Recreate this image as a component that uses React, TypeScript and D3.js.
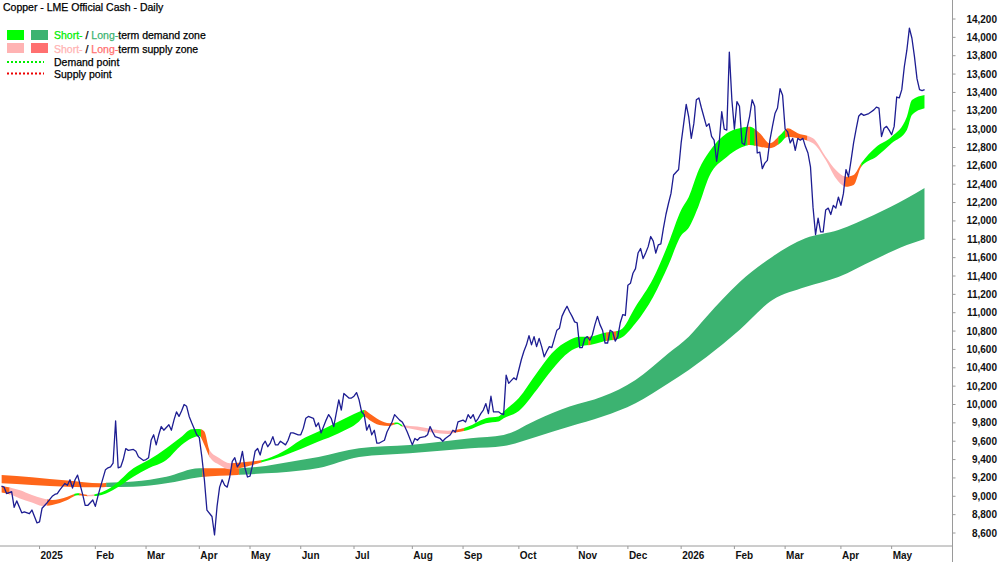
import React from 'react';
import * as d3 from 'd3';

// day = trading-day index counted from the first bar (early Dec 2024)
const price: [number, number][] = [
  [0, 9110], [1, 9100], [2, 9030], [4, 9050], [5, 8880], [6, 8950], [8, 8820], [9, 8830], [11, 8810], [12, 8850],
  [13, 8780], [14, 8710], [15, 8720], [16, 8870], [17, 8900], [18, 8930], [20, 9000], [21, 9020], [22, 9030], [23, 9070],
  [25, 9140], [26, 9120], [27, 9180], [28, 9090], [29, 9180], [30, 9230], [32, 9020], [33, 8900], [34, 8900], [36, 8960],
  [37, 8890], [38, 9000], [39, 9100], [41, 9290], [42, 9310], [43, 9320], [44, 9360], [45, 9820], [46, 9310], [47, 9320],
  [48, 9400], [49, 9520], [50, 9500], [52, 9510], [53, 9490], [54, 9430], [56, 9390], [57, 9400], [58, 9420], [59, 9610],
  [60, 9670], [61, 9560], [62, 9670], [63, 9760], [64, 9720], [66, 9780], [67, 9720], [68, 9830], [69, 9920], [70, 9870],
  [71, 9930], [72, 10000], [73, 9980], [74, 9870], [75, 9800], [77, 9670], [78, 9640], [79, 9430], [80, 9180], [81, 8850],
  [83, 8780], [84, 8580], [85, 8890], [86, 9100], [87, 9180], [88, 9120], [89, 9100], [90, 9210], [91, 9380], [92, 9420],
  [93, 9320], [94, 9360], [95, 9490], [96, 9310], [97, 9210], [98, 9220], [99, 9340], [100, 9490], [101, 9520], [102, 9450],
  [103, 9560], [104, 9600], [105, 9540], [106, 9580], [107, 9650], [108, 9560], [109, 9560], [110, 9600], [112, 9560], [113, 9610],
  [114, 9690], [115, 9690], [117, 9670], [118, 9670], [119, 9740], [120, 9850], [121, 9870], [123, 9850], [124, 9760], [125, 9800],
  [126, 9690], [128, 9830], [129, 9890], [130, 9850], [131, 9760], [133, 10050], [134, 9940], [135, 10120], [137, 10070], [138, 10070],
  [139, 10090], [140, 10130], [141, 10050], [142, 9920], [143, 9890], [144, 9720], [145, 9780], [146, 9670], [147, 9720], [148, 9580],
  [149, 9580], [151, 9610], [152, 9700], [154, 9810], [155, 9890], [157, 9830], [158, 9810], [159, 9760], [160, 9700], [162, 9560],
  [163, 9630], [164, 9610], [165, 9640], [167, 9650], [168, 9670], [169, 9760], [170, 9700], [171, 9650], [173, 9630], [174, 9600],
  [175, 9630], [177, 9670], [178, 9720], [179, 9700], [180, 9810], [182, 9830], [183, 9810], [184, 9890], [185, 9850], [186, 9890],
  [187, 9810], [188, 9850], [189, 9900], [190, 9940], [191, 10010], [192, 9900], [193, 10090], [194, 9920], [196, 9920], [197, 9900],
  [198, 9890], [199, 10320], [200, 10230], [202, 10290], [203, 10270], [205, 10490], [206, 10580], [207, 10650], [208, 10750], [209, 10650],
  [210, 10740], [211, 10630], [212, 10720], [213, 10630], [214, 10520], [215, 10580], [216, 10630], [217, 10620], [219, 10810], [220, 10830],
  [221, 10960], [222, 11020], [223, 11070], [224, 11010], [225, 10960], [226, 10900], [227, 10890], [228, 10620], [229, 10620], [230, 10720],
  [231, 10740], [232, 10700], [233, 10760], [234, 10870], [235, 10960], [236, 10870], [237, 10810], [238, 10670], [239, 10670], [240, 10810],
  [241, 10790], [242, 10690], [243, 10740], [244, 10890], [245, 10980], [246, 10970], [247, 11300], [248, 11320], [249, 11430], [250, 11480],
  [251, 11650], [252, 11700], [253, 11590], [254, 11650], [255, 11720], [256, 11830], [257, 11780], [258, 11650], [259, 11740], [260, 11750],
  [261, 11920], [262, 12070], [263, 12190], [264, 12300], [265, 12500], [266, 12530], [267, 12560], [268, 12850], [269, 13060], [270, 13270],
  [271, 13130], [272, 12900], [273, 13060], [274, 13320], [275, 13340], [276, 13230], [278, 13030], [279, 13060], [280, 12920], [281, 12880],
  [282, 12650], [283, 12850], [284, 13190], [285, 13000], [286, 12990], [287, 13840], [288, 13320], [289, 13000], [290, 13300], [291, 13250],
  [292, 12850], [293, 12830], [294, 13010], [295, 13140], [296, 13320], [297, 13250], [298, 12740], [299, 12750], [300, 12570], [301, 12630],
  [302, 12660], [303, 12880], [304, 13030], [305, 13170], [306, 13230], [307, 13440], [308, 13370], [309, 13000], [310, 12970], [311, 12850],
  [312, 12900], [313, 12770], [314, 12900], [315, 12880], [316, 12900], [317, 12810], [318, 12740], [319, 12590], [320, 12150], [321, 11850],
  [322, 12030], [323, 11880], [324, 11880], [325, 12120], [326, 12140], [327, 12070], [328, 12170], [329, 12140], [330, 12260], [331, 12170],
  [332, 12300], [333, 12560], [334, 12480], [335, 12660], [336, 12850], [337, 13000], [338, 13140], [339, 13170], [340, 13150], [342, 13170],
  [343, 13190], [344, 13210], [345, 13240], [346, 13230], [347, 12920], [348, 13010], [349, 13030], [350, 12990], [351, 12940], [352, 13030],
  [353, 13350], [354, 13340], [355, 13430], [356, 13680], [357, 13860], [358, 14100], [359, 13990], [360, 13790], [361, 13550], [362, 13430],
  [363, 13420], [364, 13430],
];

// short-term zone: [day, upper, lower]
const shortZone: [number, number, number][] = [
  [0, 9113, 9040], [4, 9091, 9015], [7, 9069, 8979], [12, 9015, 8931], [16, 8979, 8895], [20, 8960, 8906], [26, 8996, 8960],
  [30, 9033, 9011], [34, 9015, 9000], [38, 9030, 9005], [44, 9113, 9069], [52, 9306, 9214], [58, 9396, 9306], [65, 9524, 9396],
  [71, 9650, 9560], [75, 9731, 9632], [78, 9734, 9658], [80, 9705, 9560], [82, 9505, 9432], [86, 9415, 9342], [90, 9360, 9295],
  [96, 9374, 9320], [103, 9396, 9374], [111, 9487, 9440], [118, 9614, 9516], [125, 9705, 9596], [133, 9814, 9687], [141, 9922, 9814],
  [143, 9941, 9868], [145, 9905, 9832], [149, 9832, 9777], [153, 9796, 9767], [156, 9803, 9788], [158, 9777, 9759], [164, 9759, 9723],
  [170, 9730, 9694], [176, 9715, 9679], [179, 9723, 9694], [184, 9759, 9723], [191, 9850, 9796], [196, 9868, 9814], [198, 9923, 9850],
  [204, 10072, 9930], [211, 10341, 10159], [217, 10559, 10377], [224, 10703, 10576], [228, 10739, 10630], [232, 10739, 10649],
  [237, 10776, 10685], [244, 10812, 10722], [250, 11066, 10885], [257, 11375, 11175], [263, 11757, 11520], [268, 12119, 11840],
  [271, 12261, 11925], [275, 12560, 12170], [279, 12750, 12480], [286, 12955, 12697], [291, 13009, 12792], [295, 13027, 12827],
  [299, 12955, 12809], [303, 12846, 12792], [307, 12936, 12846], [310, 13009, 12918], [314, 12955, 12900], [320, 12900, 12846],
  [325, 12700, 12664], [329, 12555, 12465], [333, 12482, 12373], [336, 12501, 12392], [339, 12628, 12591], [345, 12809, 12700],
  [351, 12918, 12846], [357, 13136, 12991], [359, 13318, 13154], [364, 13372, 13227],
];

// long-term zone: [day, upper, lower]
const longZone: [number, number, number][] = [
  [0, 9233, 9142], [12, 9208, 9124], [26, 9171, 9105], [39, 9142, 9099], [41, 9146, 9102], [52, 9160, 9105], [65, 9214, 9142],
  [78, 9306, 9208], [93, 9306, 9233], [118, 9396, 9280], [125, 9429, 9309], [141, 9524, 9429], [161, 9560, 9469], [185, 9633, 9524],
  [198, 9669, 9549], [211, 9832, 9650], [224, 9977, 9759], [237, 10086, 9868], [250, 10268, 10014], [263, 10559, 10232],
  [271, 10739, 10377], [278, 10957, 10518], [291, 11332, 10812], [304, 11611, 11139], [317, 11811, 11281], [330, 11902, 11390],
  [344, 12065, 11575], [357, 12247, 11738], [364, 12359, 11804],
];

// zone state by day range: G short demand, D long demand, P short supply, O strong supply
const shortStates: [number, number, string][] = [
  [0, 3.2, 'O'], [3.2, 18.1, 'P'], [18.1, 28.8, 'O'], [28.8, 30.7, 'G'], [30.7, 33.9, 'O'], [33.9, 36.7, 'P'],
  [36.7, 78.7, 'G'], [78.7, 82, 'O'], [82, 90.7, 'P'], [90.7, 102.5, 'O'], [102.5, 143.1, 'G'], [143.1, 155, 'O'],
  [155, 158.1, 'G'], [158.1, 178.6, 'P'], [178.6, 182.5, 'O'], [182.5, 231.5, 'G'], [231.5, 232.3, 'O'], [232.3, 238.5, 'G'],
  [238.5, 239.5, 'O'], [239.5, 241, 'G'], [241, 242.5, 'O'], [242.5, 294.2, 'G'], [294.2, 295.2, 'O'], [295.2, 297, 'G'],
  [297, 306.4, 'O'], [306.4, 309.1, 'G'], [309.1, 317.8, 'O'], [317.8, 332.4, 'P'], [332.4, 339.1, 'O'], [339.1, 364, 'G'],
];
const longStates: [number, number, string][] = [
  [0, 41.4, 'O'], [41.4, 79.3, 'D'], [79.3, 93.8, 'O'], [93.8, 364, 'D'],
];

const monthLabels = ['2025', 'Feb', 'Mar', 'Apr', 'May', 'Jun', 'Jul', 'Aug', 'Sep', 'Oct', 'Nov', 'Dec', '2026', 'Feb', 'Mar', 'Apr', 'May'];
const monthStartDays = [15, 37, 57, 78, 98, 118, 139, 162, 182, 204, 227, 247, 268, 289, 309, 331, 351];
const yTicks = d3.range(8600, 14201, 200);

const colors: Record<string, string> = {
  G: '#00ff00',
  D: '#3cb371',
  P: '#ffb6b6',
  O: '#ff661a',
};

const W = 1000;
const H = 562;
const axisY = 546;
const font = '"Liberation Sans", Arial, sans-serif';

// slightly heavier text, like the original's rendering
const Txt: React.FC<{ x: number; y: number; children: React.ReactNode }> = ({ x, y, children }) => (
  <text x={x} y={y} fontSize={10.5} fill="#000" stroke="#000" strokeWidth={0.25}>{children}</text>
);
const Part: React.FC<{ c: string; children: React.ReactNode }> = ({ c, children }) => (
  <tspan fill={c} stroke={c}>{children}</tspan>
);

const App: React.FC = () => {
  const x = d3.scaleLinear().domain([0, 375]).range([1.5, 952.5]);
  const y = d3.scaleLinear().domain([8600, 14200]).range([533, 19]);
  const axisX = x(375);

  const band = d3.area<[number, number, number]>()
    .x(d => x(d[0]))
    .y0(d => y(d[2]))
    .y1(d => y(d[1]))
    .curve(d3.curveMonotoneX);

  const line = d3.line<[number, number]>()
    .x(d => x(d[0]))
    .y(d => y(d[1]));

  const fmt = d3.format(',');

  const zone = (id: string, states: [number, number, string][], data: [number, number, number][]) => (
    <g>
      <defs>
        {states.map((s, i) => (
          <clipPath key={i} id={`${id}-${i}`}>
            <rect x={x(s[0]) - 0.2} y={0} width={x(s[1]) - x(s[0]) + 0.4} height={H} />
          </clipPath>
        ))}
      </defs>
      {states.map((s, i) => (
        <path key={i} d={band(data) || ''} fill={colors[s[2]]} clipPath={`url(#${id}-${i})`} />
      ))}
    </g>
  );

  return (
    <svg width={W} height={H} style={{ position: 'absolute', left: 0, top: 0, background: '#fff', fontFamily: font }}>
      {zone('lt', longStates, longZone)}
      {zone('st', shortStates, shortZone)}
      <path d={line(price) || ''} fill="none" stroke="#1d1d92" strokeWidth={1.3} strokeLinejoin="round" />

      {/* axes */}
      <line x1={0} x2={axisX} y1={axisY} y2={axisY} stroke="#9a9a9a" strokeWidth={1} />
      <line x1={axisX} x2={axisX} y1={0} y2={H} stroke="#9a9a9a" strokeWidth={1} />
      {yTicks.map(t => (
        <g key={t}>
          <line x1={axisX} x2={axisX + 3} y1={y(t)} y2={y(t)} stroke="#9a9a9a" />
          <text x={997} y={y(t)} dy="0.35em" textAnchor="end" fontSize={10} fontWeight="bold" fill="#111">{fmt(t)}</text>
        </g>
      ))}
      {monthStartDays.map((d, i) => (
        <g key={i}>
          <line x1={x(d)} x2={x(d)} y1={axisY} y2={axisY + 3} stroke="#9a9a9a" />
          <text x={x(d) + 1} y={559} fontSize={10} fontWeight="bold" fill="#111">{monthLabels[i]}</text>
        </g>
      ))}

      {/* title and legend */}
      <Txt x={3} y={11}>Copper - LME Official Cash - Daily</Txt>
      <rect x={7} y={30} width={17} height={10} fill={colors.G} />
      <rect x={31} y={30} width={17} height={10} fill={colors.D} />
      <rect x={7} y={43} width={17} height={10} fill="#ffb3b3" />
      <rect x={31} y={43} width={17} height={10} fill="#ff7070" />
      <line x1={7} x2={44} y1={62} y2={62} stroke="#00ee00" strokeWidth={2} strokeDasharray="2,2" />
      <line x1={7} x2={44} y1={73.5} y2={73.5} stroke="#ee0000" strokeWidth={2} strokeDasharray="2,2" />
      <Txt x={54} y={39}>
        <Part c="#00ee00">Short-</Part> / <Part c="#3cb371">Long-</Part>term demand zone
      </Txt>
      <Txt x={54} y={52.5}>
        <Part c="#ffb3b3">Short-</Part> / <Part c="#ff7070">Long-</Part>term supply zone
      </Txt>
      <Txt x={54} y={65.5}>Demand point</Txt>
      <Txt x={54} y={77.5}>Supply point</Txt>
    </svg>
  );
};

export default App;
